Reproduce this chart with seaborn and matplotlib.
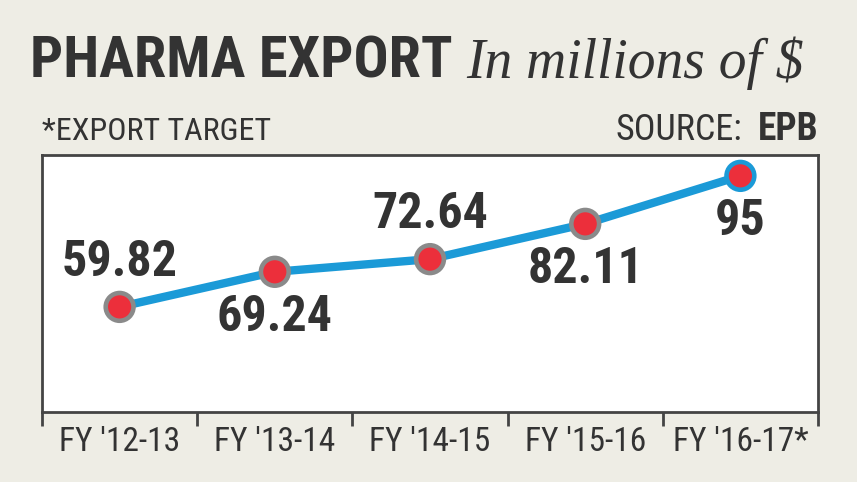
import matplotlib
matplotlib.use("Agg")
import matplotlib.pyplot as plt
import seaborn as sns
import pandas as pd
from matplotlib import font_manager as fm

# data
years = ["FY '12-13", "FY '13-14", "FY '14-15", "FY '15-16", "FY '16-17*"]
exports = [59.82, 69.24, 72.64, 82.11, 95]
label_text = ["59.82", "69.24", "72.64", "82.11", "95"]
label_above = [True, False, True, False, False]

df = pd.DataFrame({"year": years, "value": exports, "pos": range(len(years))})

names = {f.name for f in fm.fontManager.ttflist}
narrow = [n for n in ["Roboto Condensed", "Liberation Sans Narrow", "DejaVu Sans Condensed"] if n in names]
narrow = narrow + ["DejaVu Sans"]

bg = "#EEEDE5"
blue = "#1B9AD7"
red = "#EC2F3B"
grey = "#8A8A8A"
dark = "#333333"

sns.set_theme(style="white")
plt.rcParams["font.family"] = narrow

fig = plt.figure(figsize=(8.57, 4.82), dpi=100, facecolor=bg)
ax = fig.add_axes([42 / 857, 1 - 412 / 482, 776 / 857, 257 / 482])
ax.set_facecolor("white")

sns.lineplot(data=df, x="pos", y="value", ax=ax, color=blue, linewidth=6, zorder=2)
sns.scatterplot(data=df, x="pos", y="value", ax=ax, s=400, color=red,
                edgecolor=[grey] * 4 + [blue], linewidth=3.3, zorder=3, legend=False)

for i, (v, t, up) in enumerate(zip(exports, label_text, label_above)):
    dy = 32 if up else -33
    ax.annotate(t, (i, v), xytext=(0, dy), textcoords="offset points",
                ha="center", va="center", fontsize=36, fontweight="bold", color=dark)

ax.set_xlim(-0.5, 4.5)
ax.set_ylim(31.6, 100.6)
ax.set_yticks([])
ax.set_xticks(range(len(years)))
ax.set_xticklabels(years, fontsize=24, color=dark)
ax.set_xticks([i - 0.5 for i in range(len(years) + 1)], minor=True)
ax.tick_params(axis="x", which="major", length=0, pad=10)
ax.tick_params(axis="x", which="minor", length=10, width=2, color="#444444", direction="out", bottom=True)
ax.set_xlabel("")
ax.set_ylabel("")
for s in ax.spines.values():
    s.set_color("#444444")
    s.set_linewidth(2)

fig.text(30 / 857, 1 - 78 / 482, "PHARMA EXPORT", fontsize=42, fontweight="bold", color=dark,
         ha="left", va="baseline")
fig.text(466 / 857, 1 - 78 / 482, "In millions of $", fontsize=40, fontstyle="italic",
         family=["Liberation Serif", "DejaVu Serif"], color=dark, ha="left", va="baseline")
fig.text(42 / 857, 1 - 140 / 482, "*EXPORT TARGET", fontsize=23, color=dark, ha="left", va="baseline")
fig.text(818 / 857, 1 - 140 / 482, "EPB", fontsize=27, fontweight="bold", color=dark,
         ha="right", va="baseline")
fig.text(742 / 857, 1 - 140 / 482, "SOURCE:", fontsize=26, color=dark, ha="right", va="baseline")

fig.savefig("out.png", dpi=100, facecolor=bg)
